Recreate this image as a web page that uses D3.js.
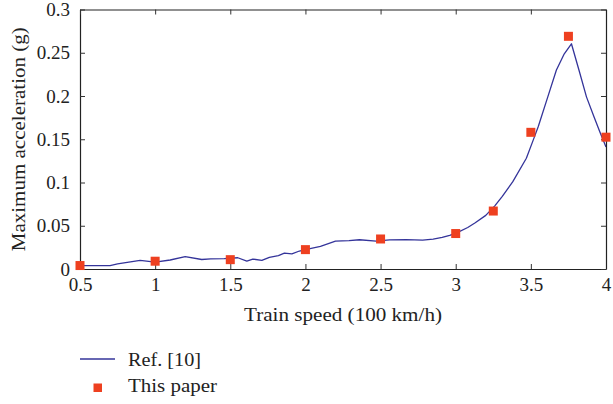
<!DOCTYPE html>
<html>
<head>
<meta charset="utf-8">
<script src="https://cdn.jsdelivr.net/npm/d3@7"></script>
<style>
  body { margin: 0; background: #fff; }
  svg text { font-family: "Liberation Serif", "Times New Roman", serif; fill: #222; }
</style>
</head>
<body>
<div class="chart"></div>
<script>
// chart size
var width = 613;
var height = 404;
var margin = { left: 80, right: 7, top: 9.5, bottom: 135 };
var fontFamily = '"Liberation Serif", "Times New Roman", serif';

// Ref. [10] curve
var refSpeed = [0.5, 0.7, 0.75, 0.9, 1.0, 1.1, 1.2, 1.31, 1.37, 1.46, 1.55, 1.61, 1.65, 1.71, 1.76,
  1.82, 1.86, 1.91, 1.96, 2.0, 2.1, 2.2, 2.29, 2.36, 2.47, 2.56, 2.67, 2.78, 2.85, 2.91, 2.96,
  3.01, 3.08, 3.13, 3.2, 3.26, 3.31, 3.38, 3.47, 3.52, 3.55, 3.61, 3.67, 3.72, 3.77, 3.82,
  3.87, 3.92, 3.96, 4.0];
var refAccel = [0.004, 0.004, 0.006, 0.010, 0.008, 0.0104, 0.0143, 0.011, 0.0118, 0.012, 0.013,
  0.009, 0.0115, 0.0100, 0.0135, 0.0155, 0.0183, 0.0174, 0.0208, 0.0225, 0.0262, 0.0322, 0.0328,
  0.0338, 0.0322, 0.0336, 0.034, 0.0334, 0.0345, 0.0365, 0.039, 0.042, 0.048, 0.0535, 0.062,
  0.073, 0.084, 0.101, 0.128, 0.151, 0.165, 0.1975, 0.230, 0.248, 0.2604, 0.23, 0.199, 0.176,
  0.158, 0.141];

// This paper points
var paperSpeed = [0.5, 1.0, 1.5, 2.0, 2.5, 3.0, 3.25, 3.5, 3.75, 4.0];
var paperAccel = [0.004, 0.009, 0.0108, 0.0224, 0.0347, 0.041, 0.067, 0.158, 0.269, 0.1524];

var xTicks = [0.5, 1, 1.5, 2, 2.5, 3, 3.5, 4];
var yTicks = [0, 0.05, 0.1, 0.15, 0.2, 0.25, 0.3];
var xTickLabels = ['0.5', '1', '1.5', '2', '2.5', '3', '3.5', '4'];
var yTickLabels = ['0', '0.05', '0.1', '0.15', '0.2', '0.25', '0.3'];

var lineColor = '#34349a';
var markColor = '#ee4020';

var svg = d3.select('.chart')
            .append('svg')
            .attr('width', width)
            .attr('height', height);

var x = d3.scaleLinear().domain([0.5, 4]).range([margin.left, width - margin.right]);
var y = d3.scaleLinear().domain([0, 0.3]).range([height - margin.bottom, margin.top]);

var refData = refSpeed.map(function(s, i) { return [s, refAccel[i]]; });
var paperData = paperSpeed.map(function(s, i) { return [s, paperAccel[i]]; });

// curve
var line = d3.line()
             .x(function(d) { return x(d[0]); })
             .y(function(d) { return y(d[1]); });

svg.append('path')
   .datum(refData)
   .attr('d', line)
   .attr('fill', 'none')
   .attr('stroke', lineColor)
   .attr('stroke-width', 1.3)
   .attr('stroke-linejoin', 'round');

// axes, ticks pointing inward, box all round
var bottomAxis = d3.axisBottom(x).tickValues(xTicks)
                   .tickFormat(function(d, i) { return xTickLabels[i]; })
                   .tickSizeInner(-5).tickSizeOuter(0).tickPadding(9);
var leftAxis = d3.axisLeft(y).tickValues(yTicks)
                 .tickFormat(function(d, i) { return yTickLabels[i]; })
                 .tickSizeInner(-5).tickSizeOuter(0).tickPadding(10);

svg.append('g')
   .attr('transform', 'translate(0,' + y(0) + ')')
   .call(bottomAxis);
svg.append('g')
   .attr('transform', 'translate(' + x(0.5) + ',0)')
   .call(leftAxis);

svg.append('g')
   .attr('transform', 'translate(0,' + y(0.3) + ')')
   .call(d3.axisTop(x).tickValues(xTicks).tickFormat('').tickSizeInner(-5).tickSizeOuter(0));
svg.append('g')
   .attr('transform', 'translate(' + x(4) + ',0)')
   .call(d3.axisRight(y).tickValues(yTicks).tickFormat('').tickSizeInner(-5).tickSizeOuter(0));

svg.selectAll('.domain').attr('stroke', '#222').attr('stroke-width', 1.2);
svg.selectAll('.tick line').attr('stroke', '#333');
svg.selectAll('.tick text')
   .attr('font-family', fontFamily)
   .attr('font-size', 19)
   .attr('fill', '#222');

// squares
svg.selectAll('rect.pt')
   .data(paperData)
   .enter()
   .append('rect')
   .attr('class', 'pt')
   .attr('x', function(d) { return x(d[0]) - 4.5; })
   .attr('y', function(d) { return y(d[1]) - 4.5; })
   .attr('width', 9)
   .attr('height', 9)
   .attr('fill', markColor);

// axis titles
svg.append('text')
   .attr('x', (x(0.5) + x(4)) / 2)
   .attr('y', 321)
   .attr('text-anchor', 'middle')
   .attr('font-family', fontFamily)
   .attr('font-size', 19)
   .attr('textLength', 198)
   .attr('lengthAdjust', 'spacingAndGlyphs')
   .text('Train speed (100 km/h)');

svg.append('text')
   .attr('transform', 'translate(25,' + (y(0) + y(0.3)) / 2 + ') rotate(-90)')
   .attr('text-anchor', 'middle')
   .attr('font-family', fontFamily)
   .attr('font-size', 19)
   .attr('textLength', 224)
   .attr('lengthAdjust', 'spacingAndGlyphs')
   .text('Maximum acceleration (g)');

// legend
svg.append('line')
   .attr('x1', 80).attr('x2', 115)
   .attr('y1', 359).attr('y2', 359)
   .attr('stroke', lineColor)
   .attr('stroke-width', 1.3);
svg.append('text')
   .attr('x', 128).attr('y', 365.5)
   .attr('font-family', fontFamily)
   .attr('font-size', 19)
   .attr('textLength', 73)
   .attr('lengthAdjust', 'spacingAndGlyphs')
   .text('Ref. [10]');
svg.append('rect')
   .attr('x', 93.5).attr('y', 383.5)
   .attr('width', 8.5).attr('height', 8.5)
   .attr('fill', markColor);
svg.append('text')
   .attr('x', 128).attr('y', 392)
   .attr('font-family', fontFamily)
   .attr('font-size', 19)
   .attr('textLength', 89)
   .attr('lengthAdjust', 'spacingAndGlyphs')
   .text('This paper');
</script>
</body>
</html>
